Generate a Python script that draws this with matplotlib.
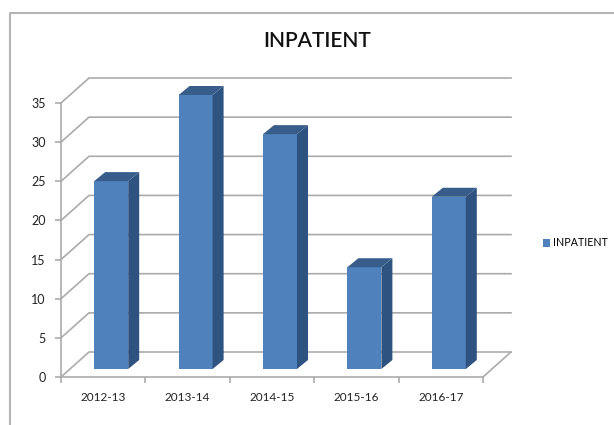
import matplotlib
matplotlib.use("Agg")
import matplotlib.pyplot as plt
from matplotlib.lines import Line2D
from matplotlib.patches import Polygon

plt.rcParams['font.family'] = ['Lato', 'DejaVu Sans']

years = ["2012-13", "2013-14", "2014-15", "2015-16", "2016-17"]
inpatient = [24, 35, 30, 13, 22]
y_ticks = [0, 5, 10, 15, 20, 25, 30, 35]

W, H = 614, 425
FRONT = "#4F81BD"
SIDE = "#2F5380"
TOP = "#385D8A"
GRID = "#ABABAB"

fig = plt.figure(figsize=(W / 100, H / 100), dpi=100)
# front plane of the fake 3d box, in pixels: x 61-483, y 377-103
ax = fig.add_axes([61 / W, 1 - 377 / H, 422 / W, 274 / H])
ax.set_xlim(-0.5, 4.5)
ax.set_ylim(0, 35)

px_x = 5 / 422
px_y = 35 / 274
wall_x, wall_y = 28 * px_x, 25 * px_y      # back wall offset
depth_x, depth_y = 11 * px_x, 9 * px_y     # bar depth
shift_x, lift = 8 * px_x, 8 * px_y         # bar offset from front plane
bar_w = 34 * px_x
left, right = -0.5, 4.5

# wall gridlines, no vertical line at the back
for t in y_ticks:
    ax.plot([left, left + wall_x, right + wall_x], [t, t + wall_y, t + wall_y],
            color=GRID, lw=1.2, clip_on=False, zorder=1, solid_joinstyle='miter')
ax.plot([right, right + wall_x], [0, wall_y], color=GRID, lw=1.2, clip_on=False, zorder=1)

# bars
xs = [i + shift_x for i in range(len(years))]
ax.bar(xs, inpatient, width=bar_w, bottom=lift, color=FRONT, label="INPATIENT",
       clip_on=False, zorder=3)
for x, v in zip(xs, inpatient):
    x0, x1 = x - bar_w / 2, x + bar_w / 2
    top = v + lift
    ax.add_patch(Polygon([(x1, lift), (x1 + depth_x, lift + depth_y), (x1 + depth_x, top + depth_y), (x1, top)],
                         closed=True, facecolor=SIDE, edgecolor='none', clip_on=False, zorder=3))
    ax.add_patch(Polygon([(x0, top), (x0 + depth_x, top + depth_y), (x1 + depth_x, top + depth_y), (x1, top)],
                         closed=True, facecolor=TOP, edgecolor='none', clip_on=False, zorder=3))

for s in ['top', 'right']:
    ax.spines[s].set_visible(False)
for s in ['left', 'bottom']:
    ax.spines[s].set_color(GRID)
    ax.spines[s].set_linewidth(1.2)

ax.set_yticks(y_ticks)
ax.set_xticks(range(len(years)))
ax.set_xticklabels(years)
ax.set_xticks([i - 0.5 for i in range(len(years) + 1)], minor=True)
ax.tick_params(axis='x', which='major', length=0, pad=11, labelsize=8.5, labelcolor='#222222')
ax.tick_params(axis='x', which='minor', length=4, color=GRID, width=1.2)
ax.tick_params(axis='y', length=4, color=GRID, width=1.2, pad=7, labelsize=9, labelcolor='#222222')

fig.text(317 / W, 1 - 41 / H, "INPATIENT", ha='center', va='center', fontsize=15, fontweight='semibold', color='#111111')

ax.legend(loc='center left', bbox_to_anchor=(543 / W, 1 - 243 / H), bbox_transform=fig.transFigure,
          frameon=False, fontsize=7.7, handlelength=0.7, handleheight=0.8, handletextpad=0.25,
          borderpad=0, borderaxespad=0)

# outer chart border, cropped at the image edge
fig.add_artist(Line2D([10 / W, 10 / W, 1], [0, 1 - 13 / H, 1 - 13 / H], color="#B5B5B5", lw=1.5))

fig.savefig("out.png", dpi=100)
